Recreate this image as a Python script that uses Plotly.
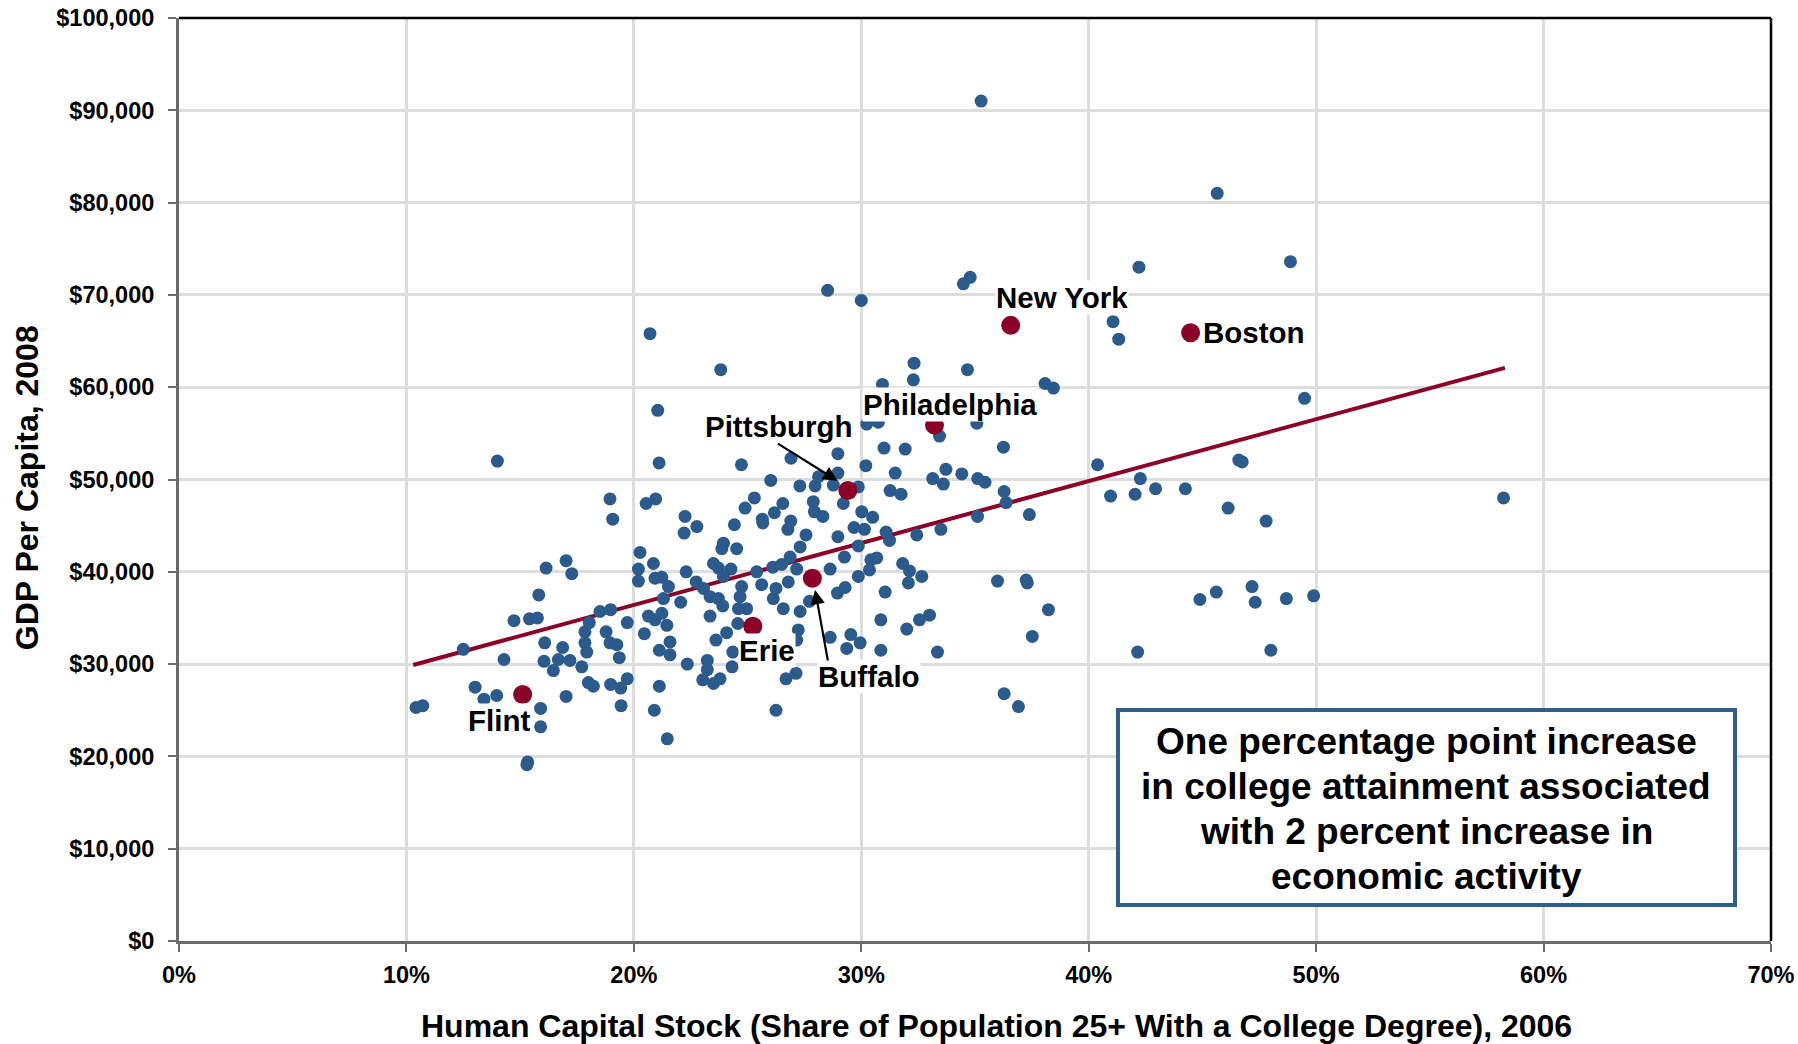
import plotly.graph_objects as go

# ---------------- data ----------------
# Metro areas: share of pop 25+ with college degree (%, 2006), GDP per capita ($ thousands, 2008)
college_pct = [
    14.0, 16.14, 17.02, 17.27, 15.82, 14.73, 15.41, 15.76, 12.50, 14.29, 16.08, 16.87, 16.05, 16.46,
    16.68, 17.19, 17.71, 18.04, 17.85, 17.85, 17.93, 18.0, 18.22, 13.02, 13.41, 13.97, 10.42, 10.72,
    15.9, 15.9, 15.33, 15.30, 17.02, 21.47,
    20.71, 23.82, 32.32, 32.29, 30.93, 34.67, 38.08, 21.05, 30.24, 30.75, 35.08, 33.44, 36.25, 31.0,
    31.93, 26.91, 28.97, 21.11, 24.73, 30.2, 31.49, 33.72, 33.14, 33.61, 34.42, 35.12, 35.44, 26.02,
    27.3, 27.97, 28.12, 28.77, 28.97, 29.87, 31.27, 31.75, 36.28, 36.37, 18.95, 19.07, 20.54, 20.96,
    25.3, 24.89, 26.55, 26.18, 27.89, 27.94, 28.31, 29.21, 30.02, 30.5, 22.25, 22.77, 22.21, 24.42,
    25.67, 26.9, 26.77, 27.57, 28.97, 29.68, 30.14, 31.09, 31.24, 32.44, 33.5, 35.11, 37.39, 20.27,
    20.2, 20.2, 20.86, 20.93, 21.23, 21.52, 22.3, 22.74, 23.06, 23.94, 23.87, 24.52, 23.5, 23.72,
    23.94, 24.27, 25.4, 25.62, 26.11, 26.5, 26.87, 27.31, 27.16, 26.79, 28.63, 29.26, 29.87, 30.42,
    30.68, 30.36, 29.87, 29.29, 28.95, 31.82, 32.12, 32.07, 32.66, 31.05, 35.99, 37.25, 37.3, 38.23,
    37.52, 36.28, 36.91, 33.35, 32.56, 33.0, 32.0, 30.86, 30.86, 29.54, 29.95, 29.36, 28.63, 27.31,
    27.72, 26.57, 26.13, 26.25, 27.23, 27.16, 27.13, 26.69, 26.25, 24.57, 24.96, 24.6, 24.67, 24.74,
    24.08, 23.61, 24.35, 24.32, 23.35, 23.72, 23.91, 23.35, 23.23, 23.23, 23.03, 23.5, 23.79, 22.35,
    22.06, 21.3, 21.23, 21.45, 20.64, 20.93, 20.46, 21.59, 21.12, 21.59, 19.71, 18.78, 18.95, 19.25,
    19.36, 18.98, 18.51, 18.98, 19.42, 19.71, 19.44, 21.12, 20.9, 25.65,
    35.27, 28.52, 30.0, 34.79, 34.49,
    45.65, 42.21, 48.87, 41.07, 41.32, 38.45, 49.49,
    40.39, 42.27, 40.96, 42.04, 42.94, 44.25, 46.75, 46.6, 46.13, 47.8, 58.24, 42.15, 44.89, 45.61,
    47.18, 47.32, 48.69, 49.89, 48.01,
]
gdp_k = [
    52.0, 40.4, 41.2, 39.8, 37.5, 34.7, 34.9, 35.0, 31.6, 30.5, 32.3, 31.8, 30.3, 29.3,
    30.5, 30.4, 29.7, 34.5, 33.5, 32.3, 31.3, 28.0, 27.6, 27.5, 26.2, 26.6, 25.3, 25.5,
    25.2, 23.2, 19.4, 19.1, 26.5, 21.9,
    65.8, 61.9, 62.6, 60.8, 60.3, 61.9, 60.4, 57.5, 56.0, 56.2, 56.1, 54.7, 53.5, 53.4,
    53.3, 52.3, 52.8, 51.8, 51.6, 51.5, 50.7, 51.1, 50.1, 49.5, 50.6, 50.1, 49.7, 49.9,
    49.3, 49.3, 50.3, 49.4, 50.7, 49.2, 48.8, 48.4, 48.7, 47.5, 47.9, 45.7, 47.4, 47.9,
    48.0, 46.9, 47.4, 46.4, 47.6, 46.5, 46.0, 47.4, 46.5, 45.9, 46.0, 44.9, 44.2, 45.1,
    45.3, 45.5, 44.6, 44.0, 43.8, 44.8, 44.6, 44.3, 43.4, 44.0, 44.6, 46.0, 46.2, 42.1,
    40.3, 39.0, 40.9, 39.3, 39.4, 38.4, 40.0, 38.9, 38.2, 43.1, 42.5, 42.5, 40.9, 40.4,
    39.5, 40.3, 40.0, 38.6, 40.5, 40.8, 41.6, 42.7, 40.3, 38.9, 40.3, 41.6, 42.8, 41.3,
    41.5, 40.2, 39.5, 38.3, 37.7, 40.9, 40.1, 38.8, 39.5, 37.8, 39.0, 39.1, 38.8, 35.9,
    33.0, 26.8, 25.4, 31.3, 34.8, 35.3, 33.8, 34.8, 31.5, 33.2, 32.3, 31.7, 32.9, 35.7,
    36.8, 36.0, 37.1, 38.2, 33.7, 32.6, 29.0, 28.4, 25.0, 34.4, 36.0, 36.0, 37.3, 38.4,
    33.4, 32.6, 31.3, 29.7, 37.3, 37.1, 36.3, 35.2, 30.4, 29.4, 28.3, 27.9, 28.4, 30.0,
    36.7, 37.1, 35.5, 34.2, 35.2, 34.8, 33.3, 32.4, 31.5, 31.0, 34.5, 33.5, 32.3, 32.1,
    30.7, 35.9, 35.7, 27.8, 27.4, 28.4, 25.5, 27.6, 25.0, 45.7,
    91.0, 70.5, 69.4, 71.9, 71.2,
    81.0, 73.0, 73.6, 67.1, 65.2, 59.9, 58.8,
    51.6, 50.1, 48.2, 48.4, 49.0, 49.0, 51.9, 52.1, 46.9, 45.5, 48.0, 31.3, 37.0, 37.8,
    38.4, 36.7, 37.1, 37.4, 31.5,
]

# Highlighted metros
city_names = ["Flint", "Erie", "Buffalo", "Pittsburgh", "Philadelphia", "New York", "Boston"]
city_pct = [15.11, 25.23, 27.85, 29.41, 33.22, 36.57, 44.48]
city_gdp_k = [26.7, 34.1, 39.3, 48.8, 55.9, 66.7, 65.9]

# Fitted trend line endpoints
trend_pct = [10.3, 58.3]
trend_gdp_k = [29.9, 62.1]

x_ticks = [0, 10, 20, 30, 40, 50, 60, 70]
y_ticks = [0, 10000, 20000, 30000, 40000, 50000, 60000, 70000, 80000, 90000, 100000]

x_title = "Human Capital Stock (Share of Population 25+ With a College Degree), 2006"
y_title = "GDP Per Capita, 2008"
box_lines = [
    "One percentage point increase",
    "in college attainment associated",
    "with 2 percent increase in",
    "economic activity",
]

# ---------------- styling ----------------
FONT = "Arial, 'Liberation Sans', sans-serif"
BLUE = "#2B5B8C"
RED = "#8C0028"
AXIS_GRAY = "#6B6B6B"

fig = go.Figure()

fig.add_trace(go.Scatter(
    x=trend_pct, y=[v * 1000 for v in trend_gdp_k], mode="lines",
    line=dict(color=RED, width=4), hoverinfo="skip", showlegend=False))

fig.add_trace(go.Scatter(
    x=college_pct, y=[v * 1000 for v in gdp_k], mode="markers",
    marker=dict(color=BLUE, size=13, line=dict(width=0)), showlegend=False))

fig.add_trace(go.Scatter(
    x=city_pct, y=[v * 1000 for v in city_gdp_k], mode="markers", text=city_names,
    marker=dict(color=RED, size=19, line=dict(width=0)), showlegend=False))

# City labels (text positions)
label_pos = {
    "Flint": (14.06, 23900, "center"),
    "Erie": (25.86, 31500, "center"),
    "Buffalo": (30.35, 28700, "center"),
    "Pittsburgh": (26.37, 55700, "center"),
    "Philadelphia": (33.88, 58100, "center"),
    "New York": (38.83, 69700, "center"),
    "Boston": (45.0, 65900, "left"),
}
annotations = []
for name in city_names:
    lx, ly, anchor = label_pos[name]
    annotations.append(dict(
        x=lx, y=ly, xref="x", yref="y", text="<b>%s</b>" % name, showarrow=False,
        xanchor=anchor, yanchor="middle", bgcolor="white", borderpad=0,
        font=dict(family=FONT, size=29.5, color="black")))

# Arrows for Pittsburgh and Buffalo
annotations.append(dict(x=28.95, y=49870, xref="x", yref="y", text="", showarrow=True,
                        ax=-61, ay=-38, arrowhead=2, arrowsize=1.3, arrowwidth=2.2,
                        arrowcolor="black"))
annotations.append(dict(x=27.97, y=38030, xref="x", yref="y", text="", showarrow=True,
                        ax=13, ay=72, arrowhead=2, arrowsize=1.3, arrowwidth=2.2,
                        arrowcolor="black"))

# Axis titles
annotations.append(dict(x=0.5135, y=-0.0925, xref="paper", yref="paper",
                        text="<b>%s</b>" % x_title, showarrow=False,
                        xanchor="center", yanchor="middle",
                        font=dict(family=FONT, size=32, color="black")))
annotations.append(dict(x=-0.0955, y=0.4916, xref="paper", yref="paper",
                        text="<b>%s</b>" % y_title, showarrow=False, textangle=-90,
                        xanchor="center", yanchor="middle",
                        font=dict(family=FONT, size=32, color="black")))

# Callout box text, one annotation per line
box_line_y = [0.2159, 0.1672, 0.1184, 0.0697]
for line_text, ly in zip(box_lines, box_line_y):
    annotations.append(dict(x=0.7836, y=ly, xref="paper", yref="paper",
                            text="<b>%s</b>" % line_text, showarrow=False,
                            xanchor="center", yanchor="middle",
                            font=dict(family=FONT, size=37, color="black")))

shapes = [
    # callout box
    dict(type="rect", xref="paper", yref="paper", x0=0.5898, x1=0.9774, y0=0.039, y1=0.2503,
         line=dict(color="#2E5E8F", width=4), fillcolor="white", layer="above"),
    # top and right black border
    dict(type="line", xref="paper", yref="paper", x0=0, x1=1, y0=1, y1=1,
         line=dict(color="black", width=2.5)),
    dict(type="line", xref="paper", yref="paper", x0=1, x1=1, y0=0, y1=1,
         line=dict(color="black", width=2.5)),
]

fig.update_layout(
    width=1798, height=1044,
    margin=dict(l=179, r=27, t=18, b=103),
    paper_bgcolor="white", plot_bgcolor="white",
    font=dict(family=FONT, color="black"),
    annotations=annotations, shapes=shapes,
    showlegend=False,
)

fig.update_xaxes(
    range=[0, 70], tickvals=x_ticks, ticktext=["%d%%" % t for t in x_ticks],
    showgrid=True, gridcolor="#DDDDDD", gridwidth=2.5, zeroline=False,
    showline=True, linecolor=AXIS_GRAY, linewidth=3,
    ticks="outside", ticklen=8, tickwidth=2, tickcolor=AXIS_GRAY,
    tickfont=dict(family=FONT, size=23.5, color="black", weight="bold"),
    ticklabelstandoff=3, ticklabeloverflow="allow", automargin=False,
)
fig.update_yaxes(
    range=[0, 100000], tickvals=y_ticks, ticktext=["$" + format(t, ",") for t in y_ticks],
    showgrid=True, gridcolor="#DDDDDD", gridwidth=2.5, zeroline=False,
    showline=True, linecolor=AXIS_GRAY, linewidth=3,
    ticks="outside", ticklen=8, tickwidth=2, tickcolor=AXIS_GRAY,
    tickfont=dict(family=FONT, size=23.5, color="black", weight="bold"),
    ticklabelstandoff=9, ticklabeloverflow="allow", automargin=False,
)

# Remove the page's default body margin so the figure fills the window exactly.
fig.write_html("out.html", config={"displayModeBar": False},
               post_script="document.body.style.margin='0';")
